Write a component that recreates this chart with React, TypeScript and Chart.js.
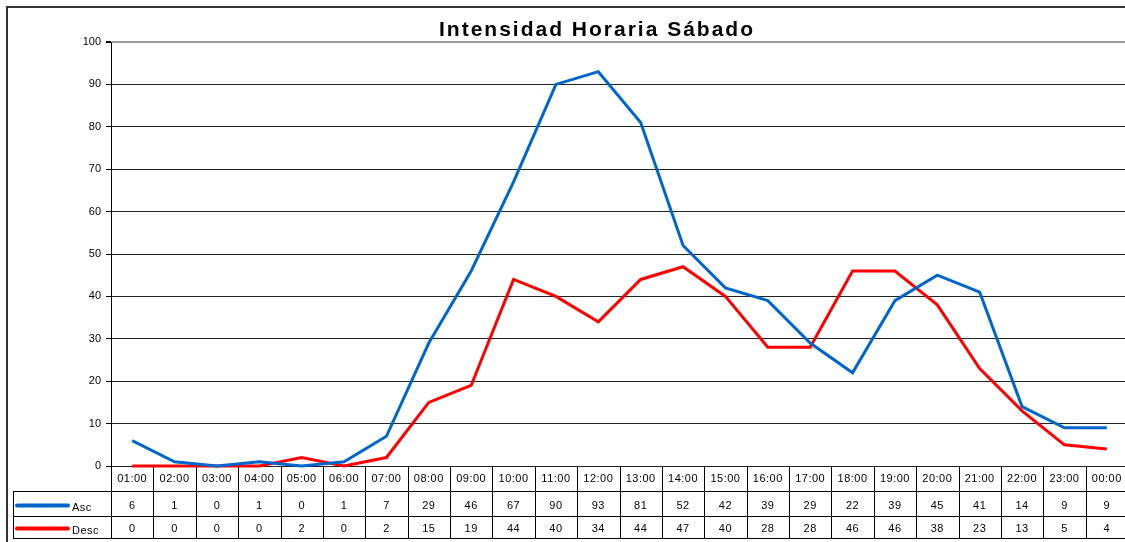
import React, { useEffect, useRef } from 'react';
import { Chart, registerables } from 'chart.js';

Chart.register(...registerables);

const titleText = 'Intensidad Horaria Sábado';
const hours = ['01:00', '02:00', '03:00', '04:00', '05:00', '06:00', '07:00', '08:00', '09:00', '10:00', '11:00', '12:00', '13:00', '14:00', '15:00', '16:00', '17:00', '18:00', '19:00', '20:00', '21:00', '22:00', '23:00', '00:00'];
const ascValues = [6, 1, 0, 1, 0, 1, 7, 29, 46, 67, 90, 93, 81, 52, 42, 39, 29, 22, 39, 45, 41, 14, 9, 9];
const descValues = [0, 0, 0, 0, 2, 0, 2, 15, 19, 44, 40, 34, 44, 47, 40, 28, 28, 46, 46, 38, 23, 13, 5, 4];
const seriesNames = ['Asc', 'Desc'];
const seriesColors = ['#0066CC', '#FF0000'];
const yMin = 0;
const yMax = 100;
const yStep = 10;

const FONT = '"Liberation Sans", Arial, sans-serif';
const W = 1140;
const H = 542;

const tablePlugin = {
  id: 'dataTable',
  afterDraw(chart: any) {
    const ctx: CanvasRenderingContext2D = chart.ctx;
    const xs = chart.scales.x;
    const area = chart.chartArea;
    const n = hours.length;
    const colW = (area.right - area.left) / n;
    const top = Math.round(area.bottom);
    const r1 = top + 25;
    const r2 = top + 50;
    const bottom = top + 72;
    const right = Math.round(area.right);
    ctx.save();

    // outer frame
    ctx.strokeStyle = '#333';
    ctx.lineWidth = 2;
    ctx.beginPath();
    ctx.moveTo(7, H + 2);
    ctx.lineTo(7, 7);
    ctx.lineTo(W + 2, 7);
    ctx.stroke();

    // title
    ctx.fillStyle = '#000';
    ctx.font = `bold 21px ${FONT}`;
    (ctx as any).letterSpacing = '2px';
    ctx.textAlign = 'center';
    ctx.textBaseline = 'alphabetic';
    ctx.fillText(titleText, 597, 36);
    (ctx as any).letterSpacing = '0px';

    // table grid
    ctx.strokeStyle = '#000';
    ctx.lineWidth = 1;
    ctx.beginPath();
    for (let i = 0; i <= n; i++) {
      const x = Math.round(xs.getPixelForValue(i) - colW / 2) + 0.5;
      ctx.moveTo(x, top);
      ctx.lineTo(x, bottom);
    }
    [r1, r2, bottom].forEach((y) => {
      ctx.moveTo(13, y + 0.5);
      ctx.lineTo(right, y + 0.5);
    });
    ctx.moveTo(13.5, r1);
    ctx.lineTo(13.5, bottom + 0.5);
    ctx.stroke();

    // header labels
    ctx.font = `11px ${FONT}`;
    (ctx as any).letterSpacing = '0.5px';
    ctx.textAlign = 'center';
    ctx.textBaseline = 'middle';
    ctx.fillStyle = '#000';
    const rows = [ascValues, descValues];
    const rowCenters = [top + 40, top + 63];
    for (let i = 0; i < n; i++) {
      const cx = xs.getPixelForValue(i);
      ctx.fillText(hours[i], cx, top + 13);
      rows.forEach((vals, r) => {
        ctx.fillText(String(vals[i]), cx, rowCenters[r]);
      });
    }

    // legend keys
    rows.forEach((_, r) => {
      const y = rowCenters[r] - 0.5;
      ctx.strokeStyle = seriesColors[r];
      ctx.lineWidth = 4;
      ctx.lineCap = 'round';
      ctx.beginPath();
      ctx.moveTo(17, y);
      ctx.lineTo(68, y);
      ctx.stroke();
      ctx.fillStyle = '#000';
      ctx.textAlign = 'left';
      ctx.fillText(seriesNames[r], 72, y + 2);
    });
    (ctx as any).letterSpacing = '0px';
    ctx.restore();
  },
};

export default function App() {
  const canvasRef = useRef<HTMLCanvasElement | null>(null);

  useEffect(() => {
    document.body.style.margin = '0';
    document.body.style.overflow = 'hidden';
    const canvas = canvasRef.current;
    if (!canvas) return;
    const chart = new Chart(canvas, {
      type: 'line',
      data: {
        labels: hours,
        datasets: [
          {
            label: seriesNames[0],
            data: ascValues,
            borderColor: seriesColors[0],
            backgroundColor: seriesColors[0],
            borderWidth: 3,
            pointRadius: 0,
            tension: 0,
            clip: false as any,
          },
          {
            label: seriesNames[1],
            data: descValues,
            borderColor: seriesColors[1],
            backgroundColor: seriesColors[1],
            borderWidth: 3,
            pointRadius: 0,
            tension: 0,
            clip: false as any,
          },
        ],
      },
      options: {
        responsive: false,
        animation: false,
        devicePixelRatio: 1,
        layout: { padding: { left: 71, top: 42, right: W - 1128, bottom: H - 466 } },
        plugins: {
          legend: { display: false },
          title: { display: false },
          tooltip: { enabled: false },
        },
        scales: {
          x: {
            type: 'category',
            display: false,
            offset: true,
          },
          y: {
            min: yMin,
            max: yMax,
            afterFit: (s: any) => {
              s.width = 40;
            },
            ticks: {
              stepSize: yStep,
              color: '#000',
              padding: 5,
              font: { family: FONT, size: 11 },
            },
            grid: {
              color: (c: any) => (c.tick && c.tick.value === yMax ? '#9a9a9a' : '#222'),
              lineWidth: (c: any) => (c.tick && c.tick.value === yMax ? 2 : 1),
              tickColor: '#000',
              tickLength: 5,
              drawTicks: true,
            },
            border: { display: true, color: '#000', width: 1 },
          },
        },
      },
      plugins: [tablePlugin],
    });
    return () => chart.destroy();
  }, []);

  return (
    <div style={{ position: 'fixed', left: 0, top: 0, width: W, height: H, background: '#fff' }}>
      <canvas ref={canvasRef} width={W} height={H} style={{ display: 'block' }} />
    </div>
  );
}
